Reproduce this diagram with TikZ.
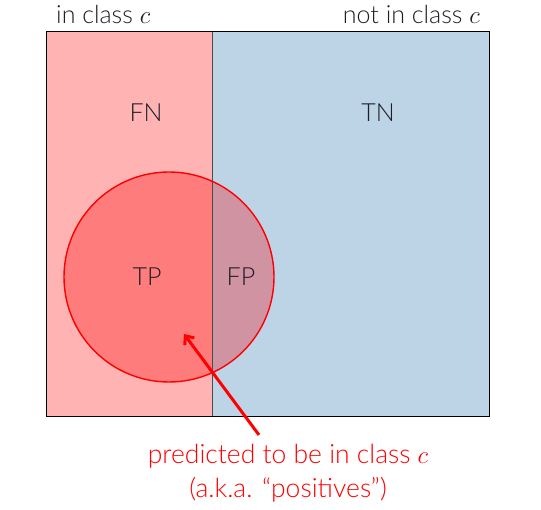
\documentclass[tikz,border=0pt]{standalone}
\usepackage{fontspec}
\setmainfont{Lato Light}
\usetikzlibrary{arrows.meta}
\definecolor{pinkbg}{RGB}{255,179,179}
\definecolor{bluebg}{RGB}{189,212,231}
\definecolor{txt}{RGB}{30,30,40}
\tikzset{
  lbl/.style={font=\fontsize{25}{30}\selectfont, text=txt, inner sep=0pt},
  redlbl/.style={font=\fontsize{26.5}{34}\selectfont, text=red, inner sep=0pt, align=center},
}
\begin{document}
\begin{tikzpicture}[x=1pt,y=-1pt]
\useasboundingbox (0,0) rectangle (541,510);
\fill[pinkbg] (46,31) rectangle (212,416);
\fill[bluebg] (212,31) rectangle (489,416);
\fill[red, opacity=0.3] (169,277) circle (105);
\draw[black!70, line width=0.8pt] (212,31) -- (212,416);
\draw[black, line width=0.8pt] (46,31) rectangle (489,416);
\draw[red, line width=1.4pt] (169,277) circle (105);
\node[lbl, anchor=base west] (inc) at (56,24) {in class $c$};
\node[lbl, anchor=base east] (notc) at (480,24) {not in class $c$};
\node[lbl] (fn) at (146,113) {FN};
\node[lbl] (tn) at (378,113) {TN};
\node[lbl] (tp) at (147,277) {TP};
\node[lbl] (fp) at (241,277) {FP};
\node[redlbl] (pred) at (288,473) {predicted to be in class $c$\\(a.k.a. ``positives'')};
\coordinate (tip) at (184,334);
\coordinate (tail) at (259,435);
\draw[red, line width=3pt, -{Straight Barb[length=7pt,width=12pt]}] (tail) -- (tip);
\end{tikzpicture}
\end{document}
